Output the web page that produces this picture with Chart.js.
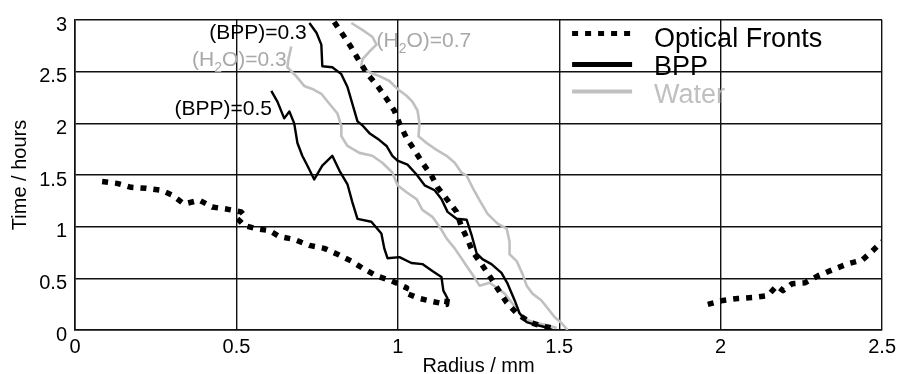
<!DOCTYPE html>
<html><head><meta charset="utf-8">
<script src="https://cdn.jsdelivr.net/npm/chart.js@4"></script>
<style>html,body{margin:0;padding:0;background:#fff;}#wrap{width:901px;height:374px;}</style>
</head><body><div id="wrap"><canvas id="c" width="901" height="374"></canvas></div>
<script>
// ---- tick labels ----
const xTickLabels = ['0','0.5','1','1.5','2','2.5'];
const yTickLabels = ['0','0.5','1','1.5','2','2.5','3'];

// ---- Optical fronts (three branches) ----
const opticalAX = [0.084,0.130,0.174,0.220,0.267,0.301,0.338,0.385,0.425,0.468,0.515,0.525,0.509,0.525,0.561,0.602,0.633,0.679,0.726,0.772,0.813,0.856,0.890,0.934,0.980,1.027,1.020,1.067,1.107,1.151,1.154];
const opticalAY = [1.438,1.419,1.381,1.371,1.352,1.305,1.219,1.257,1.190,1.171,1.143,1.105,1.060,1.010,0.981,0.962,0.905,0.876,0.819,0.790,0.733,0.667,0.600,0.524,0.476,0.410,0.362,0.305,0.276,0.248,0.314];
const opticalBX = [1.960,2.007,2.053,2.100,2.146,2.174,2.193,2.221,2.261,2.301,2.345,2.391,2.438,2.469,2.500];
const opticalBY = [0.248,0.286,0.305,0.314,0.333,0.429,0.381,0.448,0.457,0.524,0.581,0.638,0.676,0.762,0.857];
const opticalCX = [0.803,0.834,0.856,0.881,0.906,0.937,0.965,0.989,1.005,1.027,1.051,1.076,1.104,1.123,1.154,1.182,1.197,1.216,1.231,1.259,1.284,1.309,1.337,1.368,1.408,1.445,1.492];
const opticalCY = [2.981,2.838,2.733,2.600,2.476,2.362,2.238,2.124,2.000,1.857,1.743,1.619,1.495,1.381,1.257,1.143,1.000,0.876,0.762,0.638,0.524,0.400,0.267,0.162,0.076,0.038,0.010];

// ---- BPP fronts ----
const bpp03X = [0.726,0.748,0.763,0.766,0.797,0.825,0.844,0.859,0.875,0.890,0.912,0.943,0.965,0.983,0.999,1.030,1.058,1.083,1.114,1.135,1.154,1.182,1.213,1.228,1.244,1.262,1.290,1.321,1.340,1.362,1.377,1.399,1.430,1.455,1.480];
const bpp03Y = [2.971,2.876,2.762,2.552,2.543,2.476,2.352,2.190,2.019,1.981,1.905,1.838,1.781,1.686,1.638,1.600,1.505,1.400,1.352,1.267,1.143,1.076,1.067,0.924,0.743,0.686,0.638,0.552,0.448,0.286,0.162,0.076,0.048,0.029,0.000];
const bpp05X = [0.608,0.627,0.648,0.664,0.679,0.689,0.704,0.720,0.741,0.766,0.797,0.819,0.844,0.859,0.875,0.918,0.949,0.958,0.968,1.005,1.042,1.076,1.107,1.135,1.141,1.154,1.151];
const bpp05Y = [2.314,2.210,2.048,2.114,2.000,1.810,1.686,1.590,1.457,1.590,1.686,1.543,1.410,1.238,1.076,1.048,0.933,0.790,0.695,0.705,0.648,0.638,0.571,0.514,0.381,0.305,0.238];

// ---- Water fronts ----
const water03X = [0.670,0.661,0.658,0.685,0.710,0.735,0.763,0.788,0.813,0.825,0.825,0.844,0.881,0.921,0.952,0.983,0.999,1.027,1.058,1.076,1.107,1.129,1.151,1.176,1.197,1.213,1.238,1.253,1.284,1.306,1.331,1.355,1.377,1.402,1.430,1.461,1.492];
const water03Y = [2.743,2.619,2.543,2.457,2.362,2.333,2.286,2.190,2.095,1.971,1.876,1.781,1.714,1.686,1.619,1.524,1.400,1.333,1.267,1.162,1.095,1.000,0.886,0.790,0.695,0.619,0.505,0.429,0.457,0.410,0.352,0.257,0.162,0.095,0.067,0.048,0.019];
const water07X = [0.856,0.890,0.921,0.934,0.912,0.890,0.887,0.912,0.943,0.974,0.999,1.027,1.045,1.061,1.067,1.064,1.089,1.120,1.151,1.176,1.197,1.213,1.231,1.253,1.278,1.309,1.337,1.346,1.346,1.368,1.386,1.399,1.417,1.445,1.464,1.486,1.507,1.526];
const water07Y = [2.971,2.905,2.838,2.762,2.695,2.619,2.552,2.495,2.457,2.410,2.333,2.267,2.210,2.124,2.000,1.876,1.810,1.743,1.686,1.619,1.524,1.495,1.381,1.257,1.124,1.029,0.981,0.857,0.733,0.667,0.543,0.429,0.352,0.286,0.210,0.124,0.067,0.000];

const legendLabels = ['Optical Fronts','BPP','Water'];

const FONT = "'Liberation Sans', Arial, sans-serif";
const BLACK = '#000000';
const GRAY = '#c0c0c0';
const GRAY_TEXT = '#a8a8a8';

function pts(xs, ys){ return xs.map((x,i)=>({x:x, y:ys[i]})); }

const opticalStyle = {borderColor:BLACK, borderWidth:5.5, borderDash:[6,7], borderCapStyle:'butt'};
const bppStyle = {borderColor:BLACK, borderWidth:2.4};
const waterStyle = {borderColor:GRAY, borderWidth:2.6};

const datasets = [
  Object.assign({label:'Optical Fronts', data:pts(opticalAX, opticalAY)}, opticalStyle),
  Object.assign({label:'Optical Fronts (b)', data:pts(opticalBX, opticalBY)}, opticalStyle),
  Object.assign({label:'Optical Fronts (c)', data:pts(opticalCX, opticalCY)}, opticalStyle),
  Object.assign({label:'BPP 0.3', data:pts(bpp03X, bpp03Y)}, bppStyle),
  Object.assign({label:'BPP 0.5', data:pts(bpp05X, bpp05Y)}, bppStyle),
  Object.assign({label:'Water 0.3', data:pts(water03X, water03Y)}, waterStyle),
  Object.assign({label:'Water 0.7', data:pts(water07X, water07Y)}, waterStyle),
];
datasets.forEach(d=>{ d.pointRadius=0; d.pointHoverRadius=0; d.fill=false; d.tension=0; d.borderJoinStyle='round'; });

// curve labels: anchor (data units) at text baseline
const curveLabels = [
  {parts:[['(BPP)=0.3',0]], x:0.718, y:2.819, align:'right', color:BLACK},
  {parts:[['(H',0],['2',1],['O)=0.3',0]], x:0.656, y:2.557, align:'right', color:GRAY_TEXT},
  {parts:[['(H',0],['2',1],['O)=0.7',0]], x:0.934, y:2.743, align:'left', color:GRAY_TEXT},
  {parts:[['(BPP)=0.5',0]], x:0.610, y:2.076, align:'right', color:BLACK},
];

const labelPlugin = {
  id:'curveLabels',
  afterDatasetsDraw(chart){
    const ctx = chart.ctx, xs = chart.scales.x, ys = chart.scales.y;
    ctx.save();
    ctx.textBaseline = 'alphabetic';
    ctx.textAlign = 'left';
    curveLabels.forEach(l=>{
      const main = '21px ' + FONT, sub = '14px ' + FONT;
      let w = 0;
      l.parts.forEach(p=>{ ctx.font = p[1]?sub:main; w += ctx.measureText(p[0]).width; });
      let px = xs.getPixelForValue(l.x);
      const py = ys.getPixelForValue(l.y);
      if (l.align === 'right') px -= w;
      ctx.fillStyle = l.color;
      l.parts.forEach(p=>{
        ctx.font = p[1]?sub:main;
        ctx.fillText(p[0], px, py + (p[1]?6:0));
        px += ctx.measureText(p[0]).width;
      });
    });
    ctx.restore();
  }
};

const legendPlugin = {
  id:'customLegend',
  afterDatasetsDraw(chart){
    const ctx = chart.ctx, a = chart.chartArea;
    const styles = [datasets[0], datasets[3], datasets[5]];
    const lineW = [5, 5, 4];
    const colors = [BLACK, BLACK, GRAY];
    const symY = [33.5, 64.5, 91.5];
    const baseY = [46.5, 74.5, 103];
    ctx.save();
    for (let i=0;i<3;i++){
      const s = styles[i];
      ctx.beginPath();
      ctx.strokeStyle = s.borderColor;
      ctx.lineWidth = lineW[i];
      ctx.lineCap = 'butt';
      ctx.setLineDash(s.borderDash || []);
      ctx.moveTo(a.right - 310, symY[i]);
      ctx.lineTo(a.right - 250, symY[i]);
      ctx.stroke();
      ctx.setLineDash([]);
      ctx.font = '27px ' + FONT;
      ctx.fillStyle = colors[i];
      ctx.textBaseline = 'alphabetic';
      ctx.textAlign = 'left';
      ctx.fillText(legendLabels[i], a.right - 228, baseY[i]);
    }
    ctx.restore();
  }
};

const gridStyle = {color:'#111', lineWidth:1.4, drawTicks:false};

new Chart(document.getElementById('c'), {
  type:'line',
  data:{datasets:datasets},
  plugins:[labelPlugin, legendPlugin],
  options:{
    responsive:false,
    animation:false,
    layout:{padding:{top:15, right:18, left:0, bottom:0}},
    plugins:{legend:{display:false}, tooltip:{enabled:false}},
    scales:{
      x:{
        type:'linear', min:0, max:2.5,
        grid:gridStyle,
        border:{color:'#111', width:1.6},
        ticks:{stepSize:0.5, autoSkip:false, maxRotation:0, padding:5, color:BLACK,
               font:{family:FONT, size:20},
               callback:(v,i)=>xTickLabels[i]},
        title:{display:true, text:'Radius / mm', color:BLACK, font:{family:FONT, size:20, lineHeight:0.8}, padding:{top:0,bottom:0}},
        afterFit(s){ s.height = 44; }
      },
      y:{
        type:'linear', min:0, max:3,
        grid:gridStyle,
        border:{color:'#111', width:1.6},
        ticks:{stepSize:0.5, autoSkip:false, padding:8, labelOffset:5, color:BLACK,
               font:{family:FONT, size:20},
               callback:(v,i)=>yTickLabels[i]},
        title:{display:true, text:'Time / hours', color:BLACK, font:{family:FONT, size:20, lineHeight:1.2}, padding:{top:8,bottom:0}},
        afterFit(s){ s.width = 75; }
      }
    }
  }
});
</script>
</body></html>
